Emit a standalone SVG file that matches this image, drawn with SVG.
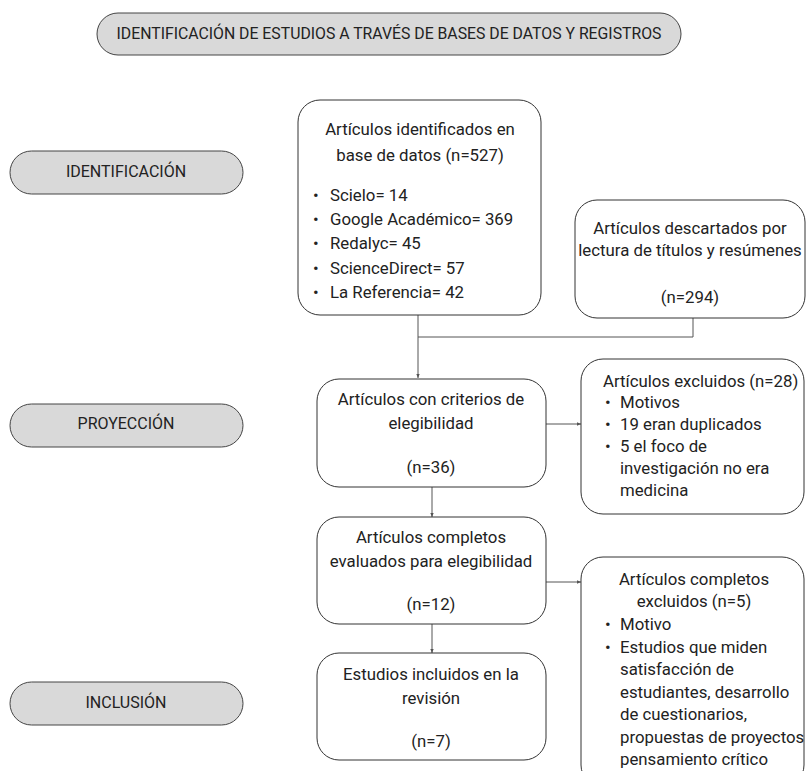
<svg xmlns="http://www.w3.org/2000/svg" width="806" height="771" viewBox="0 0 806 771">
<style>
.pill{fill:#d9d9d9;stroke:#444;stroke-width:1}
.box{fill:#fff;stroke:#333;stroke-width:1}
.t{font-family:Roboto,"Liberation Sans",sans-serif;font-size:15.8px;fill:#222}
.p{font-family:Roboto,"Liberation Sans",sans-serif;font-size:16px;fill:#222}
.b{font-family:Roboto,"Liberation Sans",sans-serif;font-size:16.8px;fill:#222}
.c{text-anchor:middle}
.ln{fill:none;stroke:#555;stroke-width:1}
</style>
<defs>
<marker id="ah" viewBox="0 0 4 4" refX="4" refY="2" markerWidth="4" markerHeight="4" orient="auto" markerUnits="userSpaceOnUse">
<path d="M0,0.3 L4,2 L0,3.7 z" fill="#555"/>
</marker>
</defs>
<g id="title"><rect class="pill" x="97" y="13" width="584" height="42" rx="21"/><text class="t c" x="389" y="39">IDENTIFICACIÓN DE ESTUDIOS A TRAVÉS DE BASES DE DATOS Y REGISTROS</text></g>
<g id="stage-identificacion"><rect class="pill" x="10" y="151" width="233" height="43" rx="21.5"/><text class="p c" x="126" y="177">IDENTIFICACIÓN</text></g>
<g id="stage-proyeccion"><rect class="pill" x="10" y="404" width="233" height="43" rx="21.5"/><text class="p c" x="126" y="429">PROYECCIÓN</text></g>
<g id="stage-inclusion"><rect class="pill" x="10" y="682" width="233" height="43" rx="21.5"/><text class="p c" x="126" y="708">INCLUSIÓN</text></g>
<g id="connectors">
<path class="ln" d="M418,315 V378" marker-end="url(#ah)"/>
<path class="ln" d="M693,318 V337 H418"/>
<path class="ln" d="M546,424 H581" marker-end="url(#ah)"/>
<path class="ln" d="M432,487 V517" marker-end="url(#ah)"/>
<path class="ln" d="M546,582 H581" marker-end="url(#ah)"/>
<path class="ln" d="M432,624 V653" marker-end="url(#ah)"/>
</g>
<g id="identificados"><rect class="box" x="298" y="100" width="243" height="215" rx="22"/>
<text class="b c" x="420" y="135">Artículos identificados en</text>
<text class="b c" x="420" y="161">base de datos (n=527)</text>
<text class="b" x="313" y="201">•</text><text class="b" x="330" y="201">Scielo= 14</text>
<text class="b" x="313" y="225">•</text><text class="b" x="330" y="225">Google Académico= 369</text>
<text class="b" x="313" y="249">•</text><text class="b" x="330" y="249">Redalyc= 45</text>
<text class="b" x="313" y="274">•</text><text class="b" x="330" y="274">ScienceDirect= 57</text>
<text class="b" x="313" y="298">•</text><text class="b" x="330" y="298">La Referencia= 42</text>
</g>
<g id="descartados"><rect class="box" x="575" y="200" width="230" height="118" rx="22"/>
<text class="b c" x="690" y="234">Artículos descartados por</text>
<text class="b c" x="690" y="256">lectura de títulos y resúmenes</text>
<text class="b c" x="690" y="303">(n=294)</text>
</g>
<g id="criterios"><rect class="box" x="317" y="379" width="229" height="108" rx="22"/>
<text class="b c" x="431" y="405">Artículos con criterios de</text>
<text class="b c" x="431" y="429">elegibilidad</text>
<text class="b c" x="431" y="473">(n=36)</text>
</g>
<g id="excluidos28"><rect class="box" x="581" y="359" width="223" height="155" rx="22"/>
<text class="b" x="603" y="387">Artículos excluidos (n=28)</text>
<text class="b" x="605" y="408">•</text><text class="b" x="620" y="408">Motivos</text>
<text class="b" x="605" y="430">•</text><text class="b" x="620" y="430">19 eran duplicados</text>
<text class="b" x="605" y="452">•</text><text class="b" x="620" y="452">5 el foco de</text>
<text class="b" x="620" y="474">investigación no era</text>
<text class="b" x="620" y="496">medicina</text>
</g>
<g id="completos"><rect class="box" x="317" y="517" width="229" height="107" rx="22"/>
<text class="b c" x="431" y="543">Artículos completos</text>
<text class="b c" x="431" y="567">evaluados para elegibilidad</text>
<text class="b c" x="431" y="610">(n=12)</text>
</g>
<g id="excluidos5"><rect class="box" x="581" y="557" width="223" height="230" rx="22"/>
<text class="b c" x="694" y="585">Artículos completos</text>
<text class="b c" x="694" y="607">excluidos (n=5)</text>
<text class="b" x="605" y="630">•</text><text class="b" x="620" y="630">Motivo</text>
<text class="b" x="605" y="653">•</text><text class="b" x="620" y="653">Estudios que miden</text>
<text class="b" x="620" y="675">satisfacción de</text>
<text class="b" x="620" y="698">estudiantes, desarrollo</text>
<text class="b" x="620" y="720">de cuestionarios,</text>
<text class="b" x="620" y="743">propuestas de proyectos</text>
<text class="b" x="620" y="765">pensamiento crítico</text>
</g>
<g id="incluidos"><rect class="box" x="317" y="653" width="229" height="107" rx="22"/>
<text class="b c" x="431" y="680">Estudios incluidos en la</text>
<text class="b c" x="431" y="704">revisión</text>
<text class="b c" x="431" y="747">(n=7)</text>
</g>
</svg>
